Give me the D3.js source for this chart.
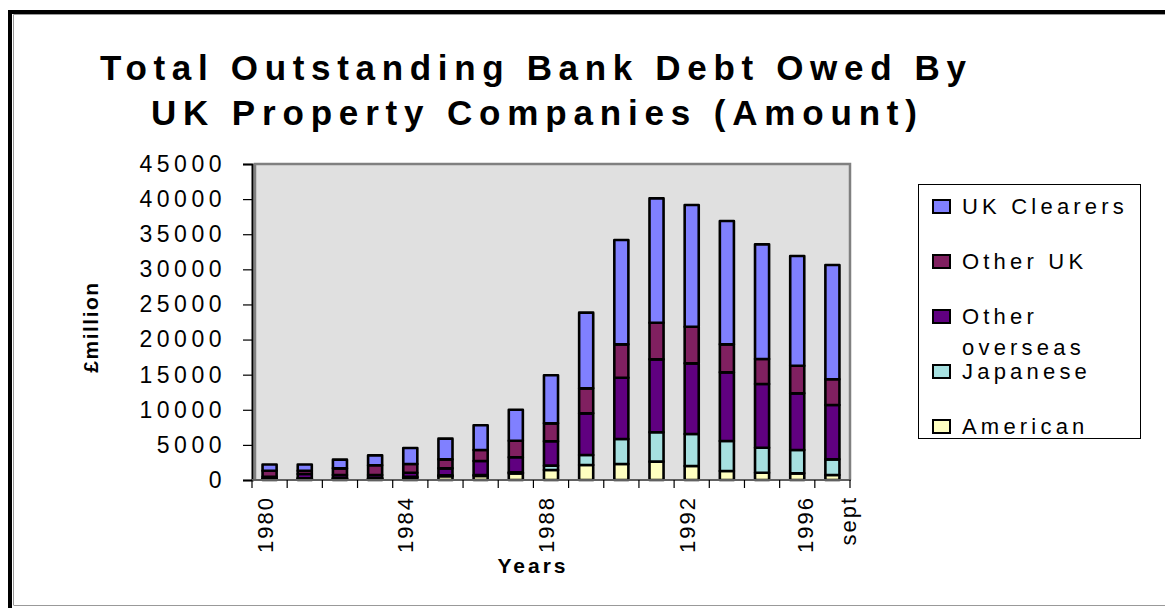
<!DOCTYPE html>
<html>
<head>
<meta charset="utf-8">
<script src="https://cdn.jsdelivr.net/npm/d3@7"></script>
<style>
  body { margin: 0; background: #fff; }
  text { font-family: "Liberation Sans", Arial, sans-serif; fill: #000; }
</style>
</head>
<body>
<svg id="chart" width="1165" height="608"></svg>
<script>
// categories (last one is a two-line label in the original)
const categories = ["1980","1981","1982","1983","1984","1985","1986","1987","1988","1989",
                    "1990","1991","1992","1993","1994","1995","1996 sept"];
// £million
const american      = [140, 200, 200, 200, 360, 550, 590, 940, 1420, 2140, 2280, 2610, 1990, 1280, 1040, 950, 710];
const japanese      = [30, 50, 60, 60, 80, 120, 120, 150, 620, 1420, 3560, 4180, 4560, 4270, 3560, 3320, 2230];
const otherOverseas = [300, 600, 450, 450, 600, 990, 2000, 2140, 3470, 5930, 8730, 10390, 10060, 9780, 9070, 8070, 7740];
const otherUK       = [850, 470, 950, 1380, 1240, 1280, 1560, 2370, 2560, 3560, 4750, 5220, 5220, 3990, 3560, 3940, 3660];
const ukClearers    = [880, 880, 1240, 1420, 2280, 2950, 3520, 4410, 6840, 10780, 14860, 17710, 17330, 17560, 16330, 15620, 16280];

const seriesNames = ["American", "Japanese", "Other overseas", "Other UK", "UK Clearers"];
const yTicks = [0, 5000, 10000, 15000, 20000, 25000, 30000, 35000, 40000, 45000];

const colors = {
  "American": "#FFFFC0",
  "Japanese": "#A6E0E0",
  "Other overseas": "#600080",
  "Other UK": "#802060",
  "UK Clearers": "#8080FF"
};

// build table for d3.stack
const table = categories.map((c, i) => ({
  cat: c,
  "American": american[i],
  "Japanese": japanese[i],
  "Other overseas": otherOverseas[i],
  "Other UK": otherUK[i],
  "UK Clearers": ukClearers[i]
}));

const plot = {left: 252, right: 850, top: 164, bottom: 480};

const svg = d3.select("#chart");

// outer frame
svg.append("path")
  .attr("d", "M10,1000 L10,12 L1200,12")
  .attr("fill", "none").attr("stroke", "#000").attr("stroke-width", 4);
svg.append("path")
  .attr("d", "M13.5,605 L13.5,14.5 L1200,14.5 M13.5,605.5 L1200,605.5")
  .attr("fill", "none").attr("stroke", "#999").attr("stroke-width", 1);

// title
const title = svg.append("g").attr("font-weight", "bold").attr("font-size", 35);
title.append("text").attr("x", 100).attr("y", 80)
  .attr("textLength", 866).attr("lengthAdjust", "spacing")
  .text("Total Outstanding Bank Debt Owed By");
title.append("text").attr("x", 151).attr("y", 125)
  .attr("textLength", 766).attr("lengthAdjust", "spacing")
  .text("UK Property Companies (Amount)");

// scales
const x = d3.scaleBand()
  .domain(categories)
  .range([plot.left, plot.right])
  .paddingInner(0.6)
  .paddingOuter(0.3);

const y = d3.scaleLinear()
  .domain([0, 45000])
  .range([plot.bottom, plot.top]);

// plot background
svg.append("rect")
  .attr("x", plot.left).attr("y", plot.top)
  .attr("width", plot.right - plot.left).attr("height", plot.bottom - plot.top)
  .attr("fill", "#E0E0E0");
svg.append("path")
  .attr("d", `M${plot.left + 3},${plot.bottom} V${plot.top} H${plot.right} V${plot.bottom}`)
  .attr("fill", "none").attr("stroke", "#808080").attr("stroke-width", 2.5);

// stacked bars
const stacked = d3.stack().keys(seriesNames)(table);

svg.append("g").selectAll("g")
  .data(stacked)
  .join("g")
  .attr("fill", d => colors[d.key])
  .selectAll("rect")
  .data(d => d)
  .join("rect")
  .attr("x", d => x(d.data.cat))
  .attr("y", d => y(d[1]))
  .attr("width", x.bandwidth())
  .attr("height", d => y(d[0]) - y(d[1]))
  .attr("stroke", "#000")
  .attr("stroke-width", 2.6)
  .attr("stroke-linejoin", "round");

// y axis
const yAxis = svg.append("g")
  .attr("transform", `translate(${plot.left},0)`)
  .call(d3.axisLeft(y).tickValues(yTicks).tickSize(9).tickPadding(10).tickFormat(d => d));
yAxis.select(".domain").attr("stroke", "#000").attr("stroke-width", 2);
yAxis.selectAll(".tick line").attr("stroke", "#000").attr("stroke-width", 1.2);
yAxis.selectAll(".tick text")
  .attr("x", -26)
  .attr("font-size", 23).attr("letter-spacing", "4.5px")
  .attr("font-family", "Liberation Sans, Arial, sans-serif")
  .attr("fill", "#000");

// x axis: line + ticks on category boundaries
const step = x.step();
const bounds = categories.map(c => x(c) + x.bandwidth() / 2 - step / 2);
bounds.push(plot.right);
const xAxis = svg.append("g");
xAxis.append("line")
  .attr("x1", plot.left).attr("x2", plot.right + 1)
  .attr("y1", plot.bottom).attr("y2", plot.bottom)
  .attr("stroke", "#606060").attr("stroke-width", 2);
xAxis.selectAll(".xt")
  .data(bounds)
  .join("line")
  .attr("x1", d => d).attr("x2", d => d)
  .attr("y1", plot.bottom).attr("y2", plot.bottom + 8)
  .attr("stroke", "#000").attr("stroke-width", 1.2);

// category labels every 4th, rotated
const labelled = categories.filter((c, i) => i % 4 === 0);
labelled.forEach(c => {
  const cx = x(c) + x.bandwidth() / 2;
  const lines = c.split(" ");
  const offsets = lines.length === 1 ? [0] : [-22, 21];
  lines.forEach((ln, k) => {
    svg.append("text")
      .attr("transform", `translate(${cx - 5 + offsets[k] + 8},${496}) rotate(-90)`)
      .attr("text-anchor", "end")
      .attr("font-size", 22)
      .attr("letter-spacing", "2px")
      .text(ln);
  });
});

// axis titles
svg.append("text")
  .attr("x", 533).attr("y", 573)
  .attr("text-anchor", "middle")
  .attr("font-size", 21).attr("font-weight", "bold").attr("letter-spacing", "3px")
  .text("Years");
svg.append("text")
  .attr("transform", "translate(98,327) rotate(-90)")
  .attr("text-anchor", "middle")
  .attr("font-size", 21).attr("font-weight", "bold").attr("letter-spacing", "1.5px")
  .text("£million");

// legend
const legend = svg.append("g");
legend.append("rect")
  .attr("x", 918.5).attr("y", 184.5).attr("width", 222).attr("height", 254)
  .attr("fill", "#fff").attr("stroke", "#000").attr("stroke-width", 1);

const legendRows = [
  {key: "UK Clearers", lines: ["UK Clearers"], cy: 206},
  {key: "Other UK", lines: ["Other UK"], cy: 261},
  {key: "Other overseas", lines: ["Other", "overseas"], cy: 316},
  {key: "Japanese", lines: ["Japanese"], cy: 371},
  {key: "American", lines: ["American"], cy: 426}
];
legendRows.forEach(r => {
  legend.append("rect")
    .attr("x", 933).attr("y", r.cy - 6).attr("width", 17).attr("height", 13)
    .attr("fill", colors[r.key]).attr("stroke", "#000").attr("stroke-width", 2);
  r.lines.forEach((ln, k) => {
    legend.append("text")
      .attr("x", 962).attr("y", r.cy + 8 + k * 31)
      .attr("font-size", 22).attr("letter-spacing", "4.2px")
      .text(ln);
  });
});
</script>
</body>
</html>
